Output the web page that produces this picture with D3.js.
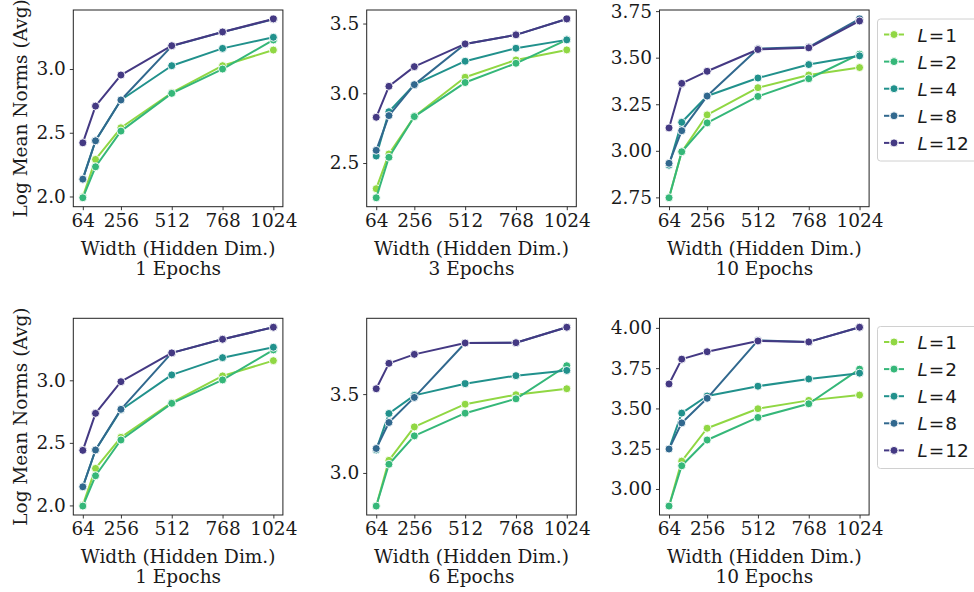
<!DOCTYPE html>
<html>
<head>
<meta charset="utf-8">
<script src="https://cdn.jsdelivr.net/npm/d3@7"></script>
<style>
  html, body { margin: 0; padding: 0; background: #fff; }
  svg { display: block; }
</style>
</head>
<body>
<svg id="chart" width="974" height="592"></svg>
<script>
// ---------------- DATA ----------------
const widths = [64, 128, 256, 512, 768, 1024];
const layerLabels = ["1", "2", "4", "8", "12"];
const xTickValues = [64, 256, 512, 768, 1024];
const panelTitles = ["1 Epochs", "3 Epochs", "10 Epochs", "1 Epochs", "6 Epochs", "10 Epochs"];
const xLabel = "Width (Hidden Dim.)";
const yLabel = "Log Mean Norms (Avg)";

// rows: L=1, L=2, L=4, L=8, L=12
const panelA = [
  [1.997, 2.291, 2.539, 2.814, 3.026, 3.149],
  [1.990, 2.233, 2.513, 2.809, 3.000, 3.228],
  [2.140, 2.437, 2.757, 3.026, 3.162, 3.249],
  [2.136, 2.437, 2.757, 3.180, 3.290, 3.390],
  [2.421, 2.709, 2.953, 3.183, 3.291, 3.393]
];
const panelB = [
  [2.316, 2.565, 2.833, 3.115, 3.239, 3.311],
  [2.251, 2.541, 2.833, 3.077, 3.215, 3.383],
  [2.550, 2.868, 3.062, 3.230, 3.323, 3.383],
  [2.591, 2.840, 3.062, 3.354, 3.419, 3.533],
  [2.828, 3.050, 3.191, 3.354, 3.419, 3.533]
];
const panelC = [
  [2.750, 2.995, 3.193, 3.339, 3.407, 3.447],
  [2.748, 2.995, 3.150, 3.292, 3.387, 3.519],
  [2.923, 3.153, 3.294, 3.391, 3.463, 3.510],
  [2.933, 3.108, 3.294, 3.548, 3.557, 3.708],
  [3.123, 3.362, 3.427, 3.544, 3.553, 3.697]
];
const panelD = [
  [2.003, 2.296, 2.544, 2.821, 3.035, 3.157],
  [1.995, 2.237, 2.523, 2.816, 3.003, 3.243],
  [2.149, 2.443, 2.763, 3.043, 3.181, 3.264],
  [2.149, 2.443, 2.768, 3.219, 3.328, 3.424],
  [2.440, 2.736, 2.989, 3.219, 3.328, 3.424]
];
const panelE = [
  [2.790, 3.080, 3.292, 3.436, 3.496, 3.534],
  [2.790, 3.055, 3.235, 3.379, 3.470, 3.680],
  [3.146, 3.377, 3.492, 3.566, 3.617, 3.650],
  [3.155, 3.320, 3.479, 3.824, 3.826, 3.924],
  [3.534, 3.695, 3.752, 3.824, 3.826, 3.924]
];
const panelF = [
  [2.894, 3.173, 3.377, 3.498, 3.550, 3.583],
  [2.894, 3.144, 3.304, 3.444, 3.529, 3.744],
  [3.248, 3.471, 3.577, 3.638, 3.683, 3.719],
  [3.248, 3.410, 3.563, 3.923, 3.913, 4.004],
  [3.652, 3.806, 3.852, 3.919, 3.913, 4.004]
];
const yTicksA = [2.0, 2.5, 3.0];
const yTicksB = [2.5, 3.0, 3.5];
const yTicksC = [2.75, 3.00, 3.25, 3.50, 3.75];
const yTicksD = [2.0, 2.5, 3.0];
const yTicksE = [3.0, 3.5];
const yTicksF = [3.00, 3.25, 3.50, 3.75, 4.00];

// ---------------- LAYOUT ----------------
const panels = [panelA, panelB, panelC, panelD, panelE, panelF];
const yTicksAll = [yTicksA, yTicksB, yTicksC, yTicksD, yTicksE, yTicksF];
const yFormats = [".1f", ".1f", ".2f", ".1f", ".1f", ".2f"];
const colLeft = [73.3, 366.7, 659.5];
const rowTop = [10, 318.3];
const PW = 209.6, PH = 196.7;

const colors = [5/6, 4/6, 3/6, 2/6, 1/6].map(t => d3.interpolateViridis(t));

const svg = d3.select("#chart");
const serif = "DejaVu Serif, serif";
const sans = "DejaVu Sans, sans-serif";
const FS = 18.5;

panels.forEach((series, i) => {
  const col = i % 3, row = Math.floor(i / 3);
  const x0 = colLeft[col], y0 = rowTop[row];
  const g = svg.append("g").attr("transform", `translate(${x0},${y0})`);

  const xs = d3.scaleLinear().domain([64 - 0.05 * 960, 1024 + 0.05 * 960]).range([0, PW]);
  const all = series.flat();
  const [mn, mx] = d3.extent(all);
  const pad = (mx - mn) * 0.05;
  const ys = d3.scaleLinear().domain([mn - pad, mx + pad]).range([PH, 0]);

  // axes
  const xa = d3.axisBottom(xs).tickValues(xTickValues).tickSize(3.5).tickPadding(3.5).tickFormat(d3.format("d"));
  const ya = d3.axisLeft(ys).tickValues(yTicksAll[i]).tickSize(3.5).tickPadding(4).tickFormat(d3.format(yFormats[i]));
  const gx = g.append("g").attr("transform", `translate(0,${PH})`).call(xa);
  const gy = g.append("g").call(ya);
  [gx, gy].forEach(a => {
    a.select(".domain").remove();
    a.selectAll(".tick line").attr("stroke", "#222").attr("stroke-width", 0.9);
    a.selectAll(".tick text").attr("font-family", serif).attr("font-size", FS).attr("fill", "#1a1a1a");
  });

  // lines + markers
  const line = d3.line().x((d, j) => xs(widths[j])).y(d => ys(d));
  series.forEach((vals, k) => {
    g.append("path").datum(vals).attr("d", line)
      .attr("fill", "none").attr("stroke", colors[k]).attr("stroke-width", 2)
      .attr("stroke-linejoin", "round").attr("stroke-linecap", "round");
    g.selectAll(null).data(vals).enter().append("circle")
      .attr("cx", (d, j) => xs(widths[j])).attr("cy", d => ys(d)).attr("r", 4)
      .attr("fill", colors[k]).attr("stroke", "#fff").attr("stroke-width", 0.9);
  });

  // frame
  g.append("rect").attr("x", 0).attr("y", 0).attr("width", PW).attr("height", PH)
    .attr("fill", "none").attr("stroke", "#222").attr("stroke-width", 1);

  // labels
  g.append("text").attr("x", PW / 2).attr("y", PH + 41.5).attr("text-anchor", "middle")
    .attr("dominant-baseline", "central").attr("font-family", serif).attr("font-size", FS)
    .attr("fill", "#1a1a1a").text(xLabel);
  g.append("text").attr("x", PW / 2).attr("y", PH + 61.5).attr("text-anchor", "middle")
    .attr("dominant-baseline", "central").attr("font-family", serif).attr("font-size", FS)
    .attr("fill", "#1a1a1a").text(panelTitles[i]);
  if (col === 0) {
    g.append("text").attr("transform", `translate(${20.7 - x0},${PH / 2}) rotate(-90)`)
      .attr("text-anchor", "middle").attr("dominant-baseline", "central")
      .attr("font-family", serif).attr("font-size", FS).attr("fill", "#1a1a1a").text(yLabel);
  }

  // legend
  if (col === 2) {
    const lg = svg.append("g").attr("transform", `translate(877.5,${row === 0 ? 19 : 326.5})`);
    lg.append("rect").attr("x", 0).attr("y", 0).attr("width", 120).attr("height", 142)
      .attr("rx", 3).attr("fill", "#fff").attr("fill-opacity", 0.8)
      .attr("stroke", "#d0d0d0").attr("stroke-width", 1);
    layerLabels.forEach((lab, k) => {
      const cy = 15.5 + k * 27.1;
      const c = colors[k];
      lg.append("line").attr("x1", 6.5).attr("x2", 12).attr("y1", cy).attr("y2", cy)
        .attr("stroke", c).attr("stroke-width", 2);
      lg.append("line").attr("x1", 21).attr("x2", 26.5).attr("y1", cy).attr("y2", cy)
        .attr("stroke", c).attr("stroke-width", 2);
      lg.append("circle").attr("cx", 16.5).attr("cy", cy).attr("r", 4)
        .attr("fill", c).attr("stroke", "#fff").attr("stroke-width", 0.9);
      const t = lg.append("text").attr("x", 40).attr("y", cy).attr("dominant-baseline", "central")
        .attr("font-family", sans).attr("font-size", FS).attr("fill", "#1a1a1a");
      t.append("tspan").attr("font-style", "italic").text("L");
      t.append("tspan").attr("dx", 1).text("=");
      t.append("tspan").attr("dx", 1).text(lab);
    });
  }
});
</script>
</body>
</html>
